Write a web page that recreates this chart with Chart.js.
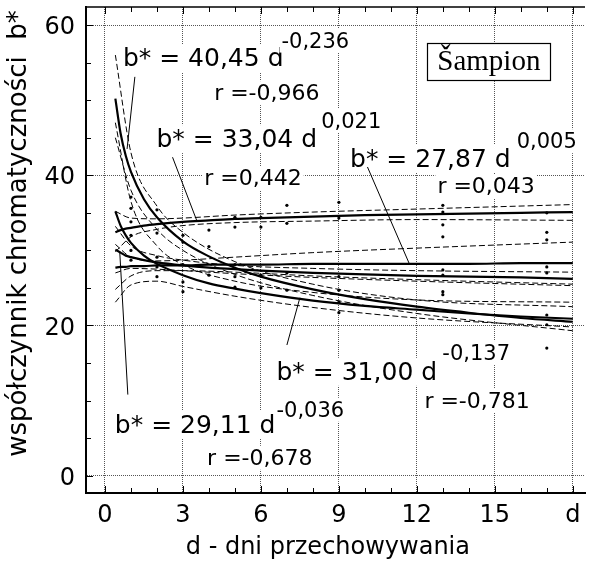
<!DOCTYPE html>
<html>
<head>
<meta charset="utf-8">
<script src="https://cdn.jsdelivr.net/npm/chart.js@4.4.0/dist/chart.umd.min.js"></script>
<style>
  html, body { margin: 0; padding: 0; background: #fff; }
  canvas { display: block; }
</style>
</head>
<body>
<canvas id="chart" width="589" height="563"></canvas>
<script>
// b* chromaticity vs storage days, "Šampion" variety
const FONT = "'DejaVu Sans', sans-serif";

// axis ticks
const xTicks = [0, 3, 6, 9, 12, 15, 18];
const xTickLabels = ['0', '3', '6', '9', '12', '15', 'd'];
const yTicks = [0, 20, 40, 60];

// fitted power curves, read at these days
const fitDays = [0.4, 0.6, 0.8, 1, 1.5, 2, 3, 4, 5, 6, 8, 10, 12, 14, 16, 18];
const fitA = [50.2, 45.6, 42.6, 40.45, 36.8, 34.4, 31.2, 29.2, 27.7, 26.5, 24.8, 23.5, 22.5, 21.7, 21.0, 20.5];
const fitB = [32.4, 32.7, 32.9, 33.0, 33.3, 33.5, 33.8, 34.0, 34.2, 34.3, 34.5, 34.7, 34.8, 34.9, 35.0, 35.1];
const fitC = [27.7, 27.8, 27.8, 27.9, 27.9, 28.0, 28.0, 28.1, 28.1, 28.1, 28.2, 28.2, 28.2, 28.2, 28.3, 28.3];
const fitD = [35.2, 33.3, 32.0, 31.0, 29.3, 28.2, 26.7, 25.6, 24.9, 24.3, 23.3, 22.6, 22.1, 21.6, 21.2, 20.9];
const fitE = [30.1, 29.7, 29.3, 29.1, 28.7, 28.4, 28.0, 27.7, 27.5, 27.3, 27.0, 26.8, 26.6, 26.5, 26.4, 26.2];

// confidence bands (dashed)
const bandDays = [0.4, 1, 2, 3, 5, 8, 12, 18];
const bandAHi = [56.0, 43.0, 35.9, 32.4, 28.5, 25.5, 23.4, 22.5];
const bandALo = [45.0, 38.0, 32.8, 30.0, 26.8, 24.0, 21.6, 19.3];
const bandBHi = [35.2, 34.3, 34.2, 34.3, 34.7, 35.1, 35.5, 36.1];
const bandBLo = [29.8, 31.8, 32.8, 33.3, 33.7, 33.9, 34.1, 34.0];
const bandCHi = [30.8, 29.1, 28.6, 28.7, 29.1, 29.7, 30.3, 31.1];
const bandCLo = [24.8, 26.6, 27.3, 27.3, 27.1, 26.6, 26.1, 25.5];
const bandDHi = [47.0, 36.5, 30.6, 28.1, 25.9, 24.4, 23.4, 23.1];
const bandDLo = [23.1, 25.4, 25.9, 25.2, 23.9, 22.4, 21.0, 19.8];
const bandEHi = [33.2, 30.6, 29.3, 28.7, 28.0, 27.6, 27.3, 27.1];
const bandELo = [27.0, 27.6, 27.5, 27.3, 26.9, 26.4, 25.9, 25.3];

// measured values
const obsDay = [1,1,1,1,1,1, 2,2,2,2,2, 3,3,3,3,3, 4,4,4, 5,5,5,5,5, 6,6,6,6, 7,7,7,7,
  9,9,9,9,9,9, 13,13,13,13,13,13,13,13, 17,17,17,17,17,17,17,17];
const obsB = [37.1,35.6,33.8,32.0,30.0,28.7, 35.4,32.3,29.1,27.8,26.5, 32.0,31.1,28.1,25.8,24.5,
  32.7,30.5,26.7, 34.4,33.1,28.1,26.5,25.1, 34.4,33.1,26.7,25.0, 36.0,33.6,27.0,24.7,
  36.4,34.3,26.5,24.7,23.1,21.7, 36.0,35.1,33.4,31.8,27.4,26.7,24.5,24.1,
  35.0,32.4,31.4,27.8,27.0,21.4,20.1,17.0];

// equation texts
const eqTexts = ['b* = 40,45 d', 'b* = 33,04 d', 'b* = 27,87 d', 'b* = 31,00 d', 'b* = 29,11 d'];
const expTexts = ['-0,236', '0,021', '0,005', '-0,137', '-0,036'];
const rTexts = ['r =-0,966', 'r =0,442', 'r =0,043', 'r =-0,781', 'r =-0,678'];

// where the annotations sit, in data units (left, baseline)
const labelLayout = [
  { eq: [0.69, 54.5], ex: [6.79, 57.0], r: [4.2, 50.0], ptr: [[1.15, 53.1], [0.85, 43.5]] },
  { eq: [1.98, 43.75], ex: [8.32, 46.3], r: [3.82, 38.7], ptr: [[2.6, 42.4], [3.55, 33.8]] },
  { eq: [9.43, 41.1], ex: [15.84, 43.6], r: [12.79, 37.6], ptr: [[10.1, 41.1], [11.7, 28.3]] },
  { eq: [6.6, 12.77], ex: [12.98, 15.4], r: [12.29, 9.04], ptr: [[7.0, 17.4], [7.5, 23.7]] },
  { eq: [0.38, 5.72], ex: [6.6, 7.85], r: [3.93, 1.46], ptr: [[0.88, 10.8], [0.57, 29.7]] }
];
const boxLayout = { x0: 12.4, y0: 57.6, x1: 17.14, y1: 52.66 };

function toPoints(xs, ys) {
  return xs.map((x, i) => ({ x: x, y: ys[i] }));
}

const bandStyle = { borderColor: '#000', borderWidth: 1, borderDash: [6, 3], pointRadius: 0, fill: false, cubicInterpolationMode: 'monotone' };
const fitStyle = { borderColor: '#000', borderWidth: 2.2, pointRadius: 0, fill: false, cubicInterpolationMode: 'monotone' };

const bands = [bandAHi, bandALo, bandBHi, bandBLo, bandCHi, bandCLo, bandDHi, bandDLo, bandEHi, bandELo];
const fits = [fitA, fitB, fitC, fitD, fitE];

const datasets = [];
bands.forEach(b => datasets.push(Object.assign({ data: toPoints(bandDays, b) }, bandStyle)));
fits.forEach(f => datasets.push(Object.assign({ data: toPoints(fitDays, f) }, fitStyle)));
datasets.push({
  type: 'scatter',
  data: toPoints(obsDay, obsB),
  pointRadius: 1.6,
  pointBackgroundColor: '#000',
  pointBorderWidth: 0,
  showLine: false
});

function textWithBg(ctx, text, x, y, font) {
  ctx.font = font;
  const m = ctx.measureText(text);
  const asc = m.actualBoundingBoxAscent, desc = m.actualBoundingBoxDescent;
  ctx.fillStyle = '#fff';
  ctx.fillRect(x - 2, y - asc - 3, m.width + 4, asc + desc + 6);
  ctx.fillStyle = '#000';
  ctx.fillText(text, x, y);
}

const decor = {
  id: 'decor',
  afterDraw(chart) {
    const { ctx, chartArea: a, scales: { x, y } } = chart;
    ctx.save();
    ctx.strokeStyle = '#000';
    // top frame
    ctx.lineWidth = 1.5;
    ctx.beginPath();
    ctx.moveTo(a.left, a.top);
    ctx.lineTo(a.right, a.top);
    ctx.stroke();
    // inward tick marks
    ctx.lineWidth = 1;
    ctx.beginPath();
    for (let v = 0; v <= 18; v++) {
      const px = Math.round(x.getPixelForValue(v)) + 0.5;
      const len = v % 3 === 0 ? 7 : 5;
      ctx.moveTo(px, a.bottom); ctx.lineTo(px, a.bottom - len);
      ctx.moveTo(px, a.top); ctx.lineTo(px, a.top + len);
    }
    for (let v = 0; v <= 60; v += 5) {
      const py = Math.round(y.getPixelForValue(v)) + 0.5;
      const len = v % 20 === 0 ? 7 : 5;
      ctx.moveTo(a.left, py); ctx.lineTo(a.left + len, py);
    }
    ctx.stroke();

    // equations
    ctx.textAlign = 'left';
    ctx.textBaseline = 'alphabetic';
    labelLayout.forEach((L, i) => {
      const px = p => [x.getPixelForValue(p[0]), y.getPixelForValue(p[1])];
      let p = px(L.eq);
      textWithBg(ctx, eqTexts[i], p[0], p[1], '25px ' + FONT);
      p = px(L.ex);
      textWithBg(ctx, expTexts[i], p[0], p[1], '21px ' + FONT);
      p = px(L.r);
      textWithBg(ctx, rTexts[i], p[0], p[1], '22px ' + FONT);
      const s = px(L.ptr[0]), e = px(L.ptr[1]);
      ctx.lineWidth = 1;
      ctx.beginPath();
      ctx.moveTo(s[0], s[1]);
      ctx.lineTo(e[0], e[1]);
      ctx.stroke();
    });

    // variety box
    const bx0 = x.getPixelForValue(boxLayout.x0), by0 = y.getPixelForValue(boxLayout.y0);
    const bx1 = x.getPixelForValue(boxLayout.x1), by1 = y.getPixelForValue(boxLayout.y1);
    ctx.fillStyle = '#fff';
    ctx.fillRect(bx0, by0, bx1 - bx0, by1 - by0);
    ctx.lineWidth = 1.2;
    ctx.strokeRect(Math.round(bx0) + 0.5, Math.round(by0) + 0.5, Math.round(bx1 - bx0), Math.round(by1 - by0));
    ctx.fillStyle = '#000';
    ctx.font = "29px 'Liberation Serif', serif";
    ctx.textAlign = 'center';
    ctx.textBaseline = 'middle';
    ctx.fillText('Šampion', (bx0 + bx1) / 2, (by0 + by1) / 2 + 1);
    ctx.restore();
  }
};

new Chart(document.getElementById('chart').getContext('2d'), {
  type: 'line',
  data: { datasets },
  plugins: [decor],
  options: {
    responsive: false,
    animation: false,
    layout: { padding: { top: 7, right: 0, bottom: 0, left: 0 } },
    plugins: { legend: { display: false }, tooltip: { enabled: false } },
    scales: {
      x: {
        type: 'linear',
        min: -0.73,
        max: 18.47,
        afterBuildTicks: s => { s.ticks = xTicks.map(v => ({ value: v })); },
        afterFit: s => { s.height = 70; s.paddingLeft = 0; s.paddingRight = 0; },
        grid: { color: '#555', lineWidth: 1, drawTicks: false },
        border: { display: true, color: '#000', width: 2, dash: [1, 1] },
        ticks: {
          color: '#000',
          font: { family: FONT, size: 24 },
          padding: 8,
          maxRotation: 0,
          autoSkip: false,
          callback: v => xTickLabels[xTicks.indexOf(v)]
        },
        title: {
          display: true,
          text: 'd - dni przechowywania  ',
          color: '#000',
          font: { family: FONT, size: 24 },
          padding: { top: 0, bottom: 1 }
        }
      },
      y: {
        type: 'linear',
        min: -2.3,
        max: 62.4,
        afterBuildTicks: s => { s.ticks = yTicks.map(v => ({ value: v })); },
        afterFit: s => { s.width = 86; s.paddingTop = 0; s.paddingBottom = 0; },
        grid: { color: '#555', lineWidth: 1, drawTicks: false },
        border: { display: true, color: '#000', width: 2, dash: [1, 1] },
        ticks: {
          color: '#000',
          font: { family: FONT, size: 24 },
          padding: 11,
          labelOffset: 3
        },
        title: {
          display: true,
          text: '    współczynnik chromatyczności  b*',
          color: '#000',
          font: { family: FONT, size: 26 },
          padding: { top: 4, bottom: 0 }
        }
      }
    }
  }
});
</script>
</body>
</html>
